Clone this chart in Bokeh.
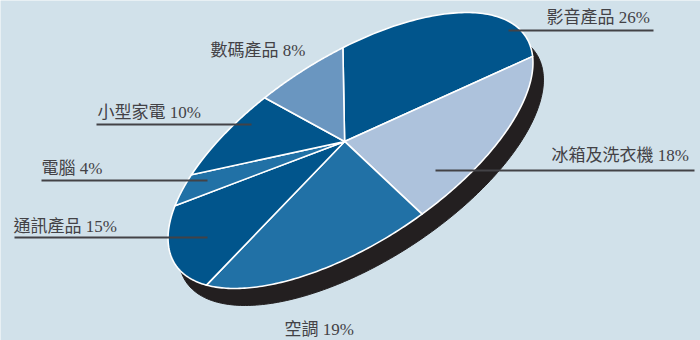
import numpy as np
from bokeh.core.properties import value
from bokeh.embed import file_html
from bokeh.models import ColumnDataSource, Range1d
from bokeh.plotting import figure
from bokeh.resources import INLINE

# Sales share by product group
categories = ["影音產品", "冰箱及洗衣機", "空調", "通訊產品", "電腦", "小型家電", "數碼產品"]
shares = [26, 18, 19, 15, 4, 10, 8]
slice_colors = ["#01558c", "#adc2dc", "#2171a6", "#01558c", "#2171a6", "#01558c", "#6a96c0"]

# Label placement: left edge and vertical centre of each text
label_x = [546, 551, 284, 13, 41, 97, 210]
label_y = [17, 155, 329, 226, 168, 112, 50]

# Leader rules under the labels (the last two labels have none on this side)
rule_x0 = [508, 435, 14, 41, 96]
rule_x1 = [653, 694, 207, 207, 251]
rule_y = [30, 170, 237, 180, 124]

BACKGROUND = "#d1e1ea"
INK = "#434246"
SHADOW = "#231f20"

# Tilted disc: ellipse frame in page pixels
CENTER = np.array([350.0, 150.0])
SEMI_MAJOR, SEMI_MINOR = 209.0, 93.0
TILT = np.radians(33.0)
APEX_SHIFT = 0.116      # perspective displacement of the pie's hub towards the far edge
START_ANGLE = -74.6     # degrees, growing clockwise on the page
DEPTH = np.array([10.5, 17.0])


def project(cx, cy):
    """Map points of the unit disc onto the tilted disc with a perspective shift."""
    k = APEX_SHIFT
    den = 1 - k * cy
    u = cx * np.sqrt(1 - k * k) / den
    v = (cy - k) / den
    major = np.array([np.cos(TILT), -np.sin(TILT)])
    minor = np.array([np.sin(TILT), np.cos(TILT)])
    x = CENTER[0] + SEMI_MAJOR * u * major[0] + SEMI_MINOR * v * minor[0]
    y = CENTER[1] + SEMI_MAJOR * u * major[1] + SEMI_MINOR * v * minor[1]
    return x, y


edges = START_ANGLE + np.concatenate([[0], np.cumsum(shares)]) * 360.0 / sum(shares)

xs, ys = [], []
for a0, a1 in zip(edges[:-1], edges[1:]):
    t = np.radians(np.linspace(a0, a1, 80))
    cx = np.concatenate([[0.0], np.cos(t)])
    cy = np.concatenate([[0.0], np.sin(t)])
    x, y = project(cx, cy)
    xs.append(x.tolist())
    ys.append(y.tolist())

t = np.linspace(0, 2 * np.pi, 361)
rim_x, rim_y = project(np.cos(t), np.sin(t))

p = figure(
    width=700, height=340,
    x_range=Range1d(0, 700), y_range=Range1d(340, 0),
    x_axis_location=None, y_axis_location=None,
    output_backend="svg", toolbar_location=None,
    min_border=0, outline_line_color=None,
    background_fill_color=BACKGROUND, border_fill_color=BACKGROUND,
)
p.xgrid.visible = False
p.ygrid.visible = False

# Side wall of the disc
p.patch(rim_x + DEPTH[0], rim_y + DEPTH[1], fill_color=SHADOW, line_color=SHADOW)

slices = ColumnDataSource(dict(xs=xs, ys=ys, color=slice_colors))
p.patches("xs", "ys", source=slices, fill_color="color",
          line_color="white", line_width=1.6, line_join="round")

p.segment(rule_x0, rule_y, rule_x1, rule_y, line_color=INK, line_width=2)

labels = ColumnDataSource(dict(
    x=label_x, y=label_y,
    text=[f"{c} {s}%" for c, s in zip(categories, shares)],
))
p.text("x", "y", text="text", source=labels, text_color=INK,
       text_font=value("Liberation Serif, Noto Sans CJK TC"),
       text_font_size="17px", text_align="left", text_baseline="middle")

open("out.html", "w").write(file_html(p, INLINE))
